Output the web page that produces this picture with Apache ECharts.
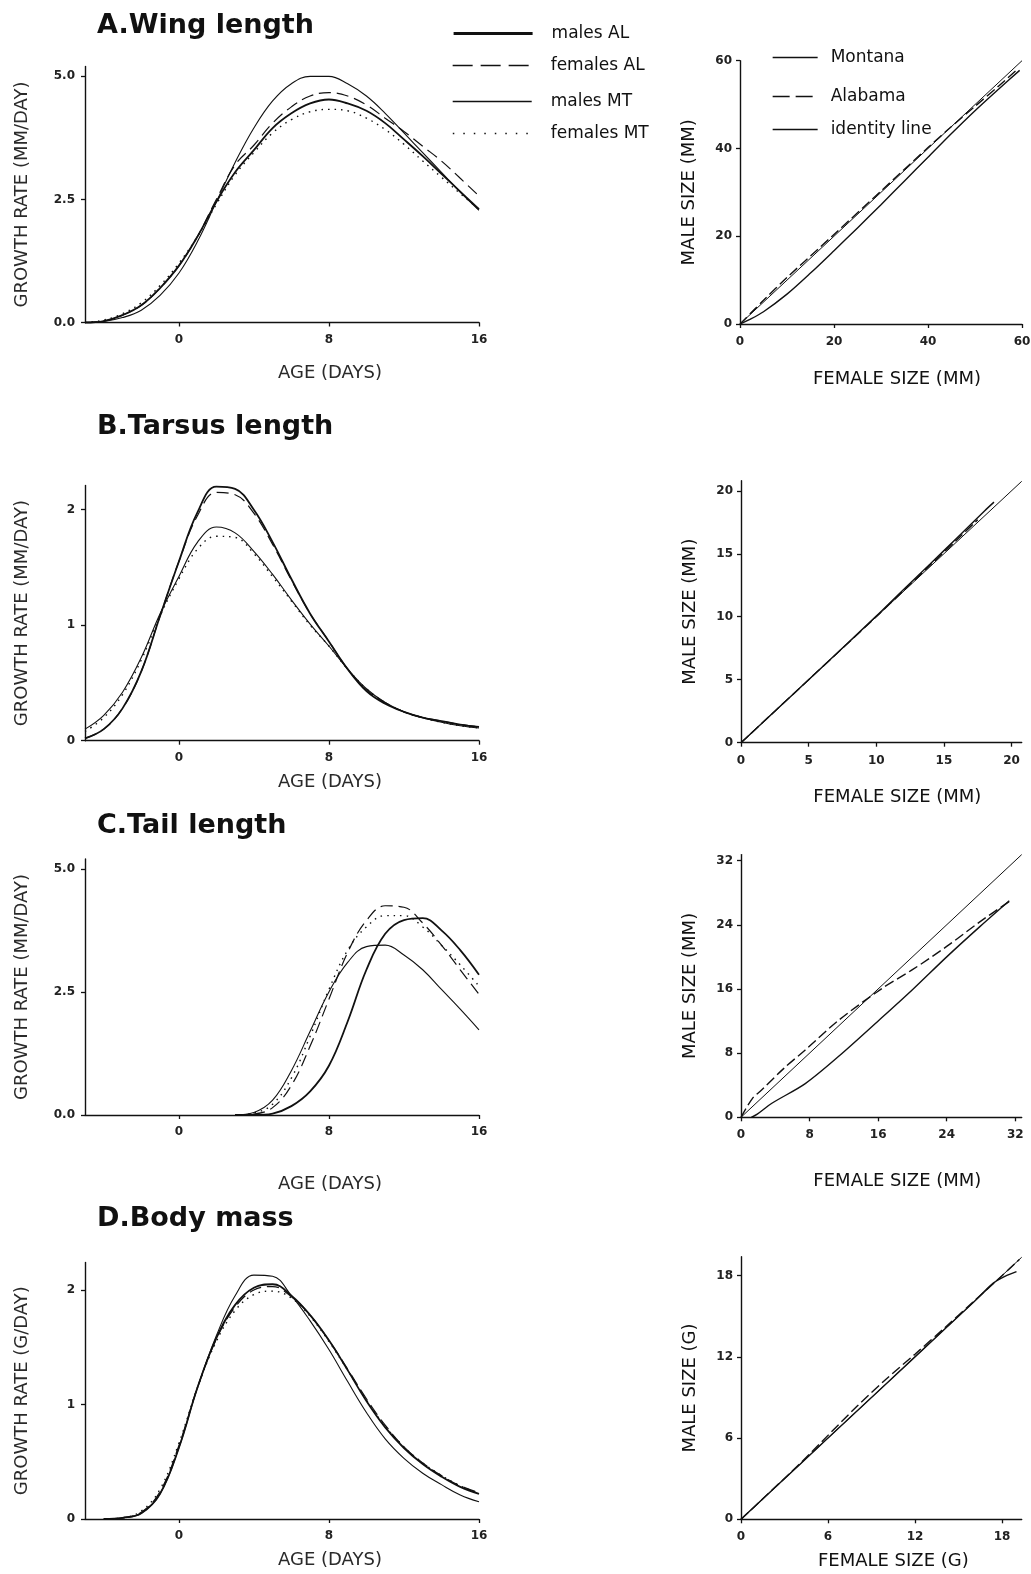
<!DOCTYPE html>
<html><head><meta charset="utf-8">
<script src="https://cdn.jsdelivr.net/npm/echarts@6/dist/echarts.min.js"></script>
<style>html,body{margin:0;padding:0;background:#fff}#c{width:1031px;height:1574px}</style>
</head><body><div id="c"></div>
<script>
// ---------- DATA ----------
const panelTitles = ['A.Wing length', 'B.Tarsus length', 'C.Tail length', 'D.Body mass'];
const groupNames = ['males AL', 'females AL', 'males MT', 'females MT'];
const popNames = ['Montana', 'Alabama', 'identity line'];

const ages = [-5,-4,-3,-2,-1,0,1,2,3,4,5,6,7,8,9,10,11,12,13,14,15,16];
const wingMalesAL   = [0,0.03,0.15,0.35,0.7,1.15,1.75,2.45,3.05,3.5,3.95,4.25,4.45,4.53,4.45,4.3,4.05,3.72,3.38,3.02,2.66,2.3];
const wingFemalesAL = [0,0.03,0.15,0.35,0.7,1.15,1.75,2.5,3.2,3.6,4.05,4.38,4.6,4.67,4.6,4.42,4.15,3.88,3.58,3.28,2.93,2.57];
const wingMalesMT   = [0,0.02,0.1,0.25,0.55,1.0,1.65,2.45,3.25,3.95,4.5,4.85,5.0,5.0,4.85,4.6,4.25,3.85,3.45,3.05,2.65,2.28];
const wingFemalesMT = [0,0.05,0.18,0.4,0.75,1.2,1.75,2.4,3.0,3.45,3.85,4.12,4.28,4.33,4.3,4.15,3.92,3.62,3.28,2.95,2.62,2.3];

const tarsusMalesAL   = [0.02,0.1,0.28,0.6,1.08,1.55,1.98,2.2,2.18,2.0,1.72,1.4,1.1,0.86,0.62,0.43,0.32,0.25,0.2,0.17,0.14,0.12];
const tarsusFemalesAL = [0.02,0.1,0.28,0.6,1.08,1.55,1.95,2.15,2.13,1.97,1.7,1.39,1.1,0.86,0.62,0.44,0.33,0.25,0.2,0.17,0.14,0.12];
const tarsusMalesMT   = [0.1,0.22,0.42,0.72,1.1,1.42,1.72,1.85,1.8,1.64,1.44,1.22,1.01,0.82,0.62,0.45,0.33,0.25,0.2,0.16,0.13,0.11];
const tarsusFemalesMT = [0.08,0.2,0.4,0.7,1.08,1.4,1.66,1.77,1.76,1.62,1.42,1.21,1.0,0.82,0.62,0.45,0.33,0.25,0.2,0.16,0.13,0.11];

const tailAges = [3,4,5,6,7,8,9,10,11,12,13,14,15,16];
const tailMalesAL   = [0,0,0.03,0.18,0.48,1.0,1.9,2.95,3.68,3.96,4.0,3.75,3.35,2.85];
const tailFemalesAL = [0,0.02,0.15,0.6,1.4,2.35,3.3,3.95,4.25,4.22,3.9,3.45,2.95,2.45];
const tailMalesMT   = [0,0.05,0.3,0.9,1.7,2.5,3.1,3.42,3.45,3.25,2.95,2.55,2.15,1.73];
const tailFemalesMT = [0,0.04,0.22,0.75,1.6,2.55,3.35,3.82,4.05,4.05,3.82,3.45,3.05,2.62];

const bodyAges = [-4,-3,-2,-1,0,1,2,3,4,5,6,7,8,9,10,11,12,13,14,15,16];
const bodyMalesAL   = [0,0.01,0.05,0.22,0.62,1.15,1.58,1.87,2.02,2.05,1.95,1.78,1.56,1.3,1.03,0.8,0.62,0.48,0.37,0.28,0.22];
const bodyFemalesAL = [0,0.01,0.06,0.24,0.64,1.15,1.57,1.85,2.0,2.03,1.94,1.78,1.56,1.31,1.05,0.82,0.63,0.49,0.38,0.29,0.23];
const bodyMalesMT   = [0,0.01,0.05,0.22,0.62,1.15,1.6,1.95,2.13,2.12,1.95,1.73,1.48,1.2,0.93,0.7,0.53,0.4,0.3,0.21,0.15];
const bodyFemalesMT = [0,0.01,0.07,0.26,0.66,1.15,1.55,1.82,1.96,1.99,1.93,1.77,1.55,1.3,1.04,0.81,0.63,0.49,0.38,0.29,0.22];

// size vs size (female x, male y)
const wingMontanaX = [0,2,5,10,15,20,25,30,35,40,45,50,55,59.5];
const wingMontanaY = [0,1.0,2.8,6.8,11.6,16.7,21.9,27.2,32.6,38,43.4,48.6,53.5,57.8];
const wingAlabamaX = [0,5,10,20,30,40,45,50,55,59];
const wingAlabamaY = [0,5.4,10.6,20.4,30.3,40.2,45,49.6,54.2,58];
const wingIdentity = [0,60];

const tarsusMontanaX = [0,5,10,12,14,16,18,18.7];
const tarsusMontanaY = [0,5,10.05,12.15,14.2,16.3,18.4,19.1];
const tarsusAlabamaX = [0,5,10,12,14,16,17.5];
const tarsusAlabamaY = [0,5,10,12.05,14.1,16.15,17.7];
const tarsusIdentity = [0,20.75];

const tailMontanaX = [1.2,1.9,3.6,7.5,11.4,16.1,20,24,27.9,31.3];
const tailMontanaY = [0,0.4,1.75,4.2,7.6,12.1,15.9,20.0,23.8,27.0];
const tailAlabamaX = [0,1.3,2.4,5,7.5,11.4,16.5,20,24,27.9,31.3];
const tailAlabamaY = [0,2.3,3.4,6.1,8.4,12.1,16.1,18.4,21.3,24.4,26.9];
const tailIdentity = [0,32.75];

const bodyMontanaX = [0,4,8,12,16,17.4,18.2,19.0];
const bodyMontanaY = [0,4,8,12,16,17.45,17.95,18.3];
const bodyAlabamaX = [0,4,6,8,10,12,14,16,18,19.2];
const bodyAlabamaY = [0,4.05,6.2,8.35,10.35,12.2,14.1,16.05,18.0,19.2];
const bodyIdentity = [0,19.36];

// tick values and labels
const ageTicks = [0, 8, 16];
const ageTickLabels = ['0', '8', '16'];
const rateTicks5 = [0, 2.5, 5];
const rateTicks5Labels = ['0.0', '2.5', '5.0'];
const rateTicks2 = [0, 1, 2];
const rateTicks2Labels = ['0', '1', '2'];
const wingSizeTicks = [0, 20, 40, 60];
const tarsusSizeTicks = [0, 5, 10, 15, 20];
const tailSizeTicks = [0, 8, 16, 24, 32];
const bodySizeTicks = [0, 6, 12, 18];

// ---------- BUILD ----------
const FONT = 'DejaVu Sans';
const INK = '#111';
const grids = [
  {left:85, top:66.5, width:394, height:256},
  {left:740, top:60.7, width:282, height:263.3},
  {left:85, top:485.5, width:394, height:255.2},
  {left:741, top:480.7, width:280.7, height:262},
  {left:85, top:859, width:394, height:256},
  {left:741, top:854.6, width:280.7, height:262.7},
  {left:85, top:1262.5, width:394, height:256.5},
  {left:741, top:1256.7, width:280.7, height:262.6}
];
grids.forEach(g => { g.containLabel = false; g.outerBoundsMode = 'none'; });

function labelFor(ticks, labels) {
  return v => { const i = ticks.findIndex(t => Math.abs(t - v) < 1e-6); return i >= 0 ? labels[i] : ''; };
}
const axisLineStyle = {show:true, onZero:false, lineStyle:{color:INK, width:1.4}};
const tickStyle = (vals) => ({show:true, length:4, inside:false, lineStyle:{color:INK, width:1.3}, customValues: vals});
const tickFont = {fontFamily:FONT, fontSize:12, fontWeight:'bold', color:'#222'};
const nameFont = (pad, color) => ({fontFamily:FONT, fontSize:18, color:color || '#2a2a2a', padding: pad || 0});

const xAxes = [], yAxes = [];
function leftAxes(gi, yMax, yTicks, yLabels, xNameGap) {
  xAxes.push({gridIndex:gi, type:'value', min:-5, max:16,
    axisLine:axisLineStyle, axisTick:tickStyle(ageTicks), splitLine:{show:false},
    axisLabel:Object.assign({customValues:ageTicks, margin:11, formatter:labelFor(ageTicks, ageTickLabels)}, tickFont),
    name:'AGE (DAYS)', nameLocation:'middle', nameGap:xNameGap, nameTextStyle:nameFont([0,0,0,96])});
  yAxes.push({gridIndex:gi, type:'value', min:0, max:yMax,
    axisLine:axisLineStyle, axisTick:tickStyle(yTicks), splitLine:{show:false},
    axisLabel:Object.assign({customValues:yTicks, margin:10, formatter:labelFor(yTicks, yLabels)}, tickFont),
    name: gi === 6 ? 'GROWTH RATE (G/DAY)' : 'GROWTH RATE (MM/DAY)', nameLocation:'middle', nameGap:54, nameRotate:90,
    nameTextStyle:nameFont()});
}
function rightAxes(gi, xMax, yMax, ticks, xNameGap, unit, xPad) {
  const lab = ticks.map(String);
  xAxes.push({gridIndex:gi, type:'value', min:0, max:xMax,
    axisLine:axisLineStyle, axisTick:tickStyle(ticks), splitLine:{show:false},
    axisLabel:Object.assign({customValues:ticks, margin:12, formatter:labelFor(ticks, lab)}, tickFont),
    name:'FEMALE SIZE (' + unit + ')', nameLocation:'middle', nameGap:xNameGap, nameTextStyle:nameFont([0,0,0,xPad], INK)});
  yAxes.push({gridIndex:gi, type:'value', min:0, max:yMax,
    axisLine:axisLineStyle, axisTick:tickStyle(ticks), splitLine:{show:false},
    axisLabel:Object.assign({customValues:ticks, margin:8, formatter:labelFor(ticks, lab)}, tickFont),
    name:'MALE SIZE (' + unit + ')', nameLocation:'middle', nameGap:42, nameRotate:90, nameTextStyle:nameFont(0, INK)});
}
leftAxes(0, 5.2, rateTicks5, rateTicks5Labels, 42);
rightAxes(1, 60, 60, wingSizeTicks, 46, 'MM', 32);
leftAxes(2, 2.21, rateTicks2, rateTicks2Labels, 33);
rightAxes(3, 20.75, 20.8, tarsusSizeTicks, 46, 'MM', 32);
leftAxes(4, 5.2, rateTicks5, rateTicks5Labels, 60);
rightAxes(5, 32.75, 32.75, tailSizeTicks, 55, 'MM', 32);
leftAxes(6, 2.24, rateTicks2, rateTicks2Labels, 32);
rightAxes(7, 19.36, 19.4, bodySizeTicks, 33, 'G', 24);

const groupStyles = {
  'males AL':   {color:INK, width:1.8, type:'solid'},
  'females AL': {color:INK, width:1.2, type:[12,6]},
  'males MT':   {color:INK, width:1.1, type:'solid'},
  'females MT': {color:INK, width:1.4, type:[1.5,5]}
};
const popStyles = {
  'Montana':       {color:INK, width:1.4, type:'solid'},
  'Alabama':       {color:INK, width:1.4, type:[10,4]},
  'identity line': {color:INK, width:1.0, type:'solid'}
};
const series = [];
function addLine(name, gi, xs, ys, style, smooth) {
  series.push({type:'line', name, xAxisIndex:gi, yAxisIndex:gi,
    data: xs.map((x, i) => [x, ys[i]]), symbol:'none', showSymbol:false,
    smooth: smooth, lineStyle: Object.assign({}, style), itemStyle:{color:INK},
    silent:true, animation:false, clip:false});
}
function addGrowth(gi, xs, arrs) {
  groupNames.forEach((n, k) => addLine(n, gi, xs, arrs[k], groupStyles[n], 0.4));
}
function addSize(gi, mx, my, ax, ay, idn) {
  addLine('identity line', gi, idn, idn, popStyles['identity line'], false);
  addLine('Montana', gi, mx, my, popStyles['Montana'], 0.3);
  addLine('Alabama', gi, ax, ay, popStyles['Alabama'], 0.3);
}
addGrowth(0, ages, [wingMalesAL, wingFemalesAL, wingMalesMT, wingFemalesMT]);
addSize(1, wingMontanaX, wingMontanaY, wingAlabamaX, wingAlabamaY, wingIdentity);
addGrowth(2, ages, [tarsusMalesAL, tarsusFemalesAL, tarsusMalesMT, tarsusFemalesMT]);
addSize(3, tarsusMontanaX, tarsusMontanaY, tarsusAlabamaX, tarsusAlabamaY, tarsusIdentity);
addGrowth(4, tailAges, [tailMalesAL, tailFemalesAL, tailMalesMT, tailFemalesMT]);
addSize(5, tailMontanaX, tailMontanaY, tailAlabamaX, tailAlabamaY, tailIdentity);
addGrowth(6, bodyAges, [bodyMalesAL, bodyFemalesAL, bodyMalesMT, bodyFemalesMT]);
addSize(7, bodyMontanaX, bodyMontanaY, bodyAlabamaX, bodyAlabamaY, bodyIdentity);

// legends (one component per item for exact placement)
const legendText = {fontFamily:FONT, fontSize:17, color:INK};
const leftLegendTops = [20, 52, 88, 120];
const leftLegendLine = [{width:3.2}, {type:[20,8], width:1.3}, {width:1.4}, {type:[1.5,9], width:1.6}];
const rightLegendTops = [44, 83, 116];
const rightLegendLine = [{width:1.3}, {type:[17,6], width:1.3}, {width:1.3}];
const legends = [];
groupNames.forEach((n, k) => legends.push({data:[n], left:447, top:leftLegendTops[k], orient:'vertical',
  itemWidth:79, itemHeight:14, selectedMode:false,
  itemStyle:{opacity:0}, lineStyle:Object.assign({color:INK}, leftLegendLine[k]),
  textStyle:Object.assign({padding:[0,0,0,14]}, legendText)}));
popNames.forEach((n, k) => legends.push({data:[n], left:767, top:rightLegendTops[k], orient:'vertical',
  itemWidth:45, itemHeight:14, selectedMode:false,
  itemStyle:{opacity:0}, lineStyle:Object.assign({color:INK}, rightLegendLine[k]),
  textStyle:Object.assign({padding:[0,0,0,8]}, legendText)}));

const titleTops = [7, 408, 807, 1200];
const titles = panelTitles.map((t, i) => ({text:t, left:92, top:titleTops[i],
  textStyle:{fontFamily:FONT, fontSize:27, fontWeight:'bold', color:INK}}));

const chart = echarts.init(document.getElementById('c'), null, {renderer:'canvas'});
chart.setOption({
  backgroundColor:'#fff',
  animation:false,
  title: titles,
  legend: legends,
  grid: grids,
  xAxis: xAxes,
  yAxis: yAxes,
  series: series
});
</script></body></html>
